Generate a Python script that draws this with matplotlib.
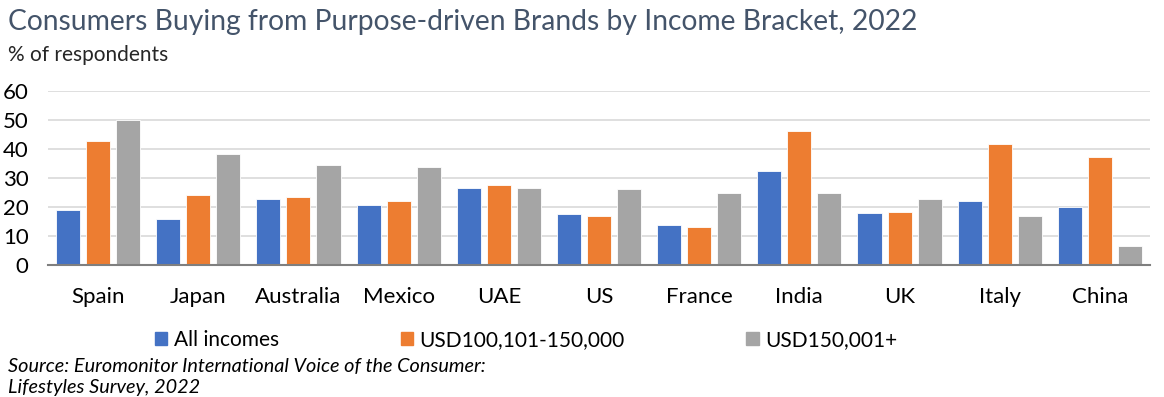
import numpy as np
import matplotlib.pyplot as plt
from matplotlib.patches import Patch

countries = ['Spain', 'Japan', 'Australia', 'Mexico', 'UAE', 'US', 'France',
             'India', 'UK', 'Italy', 'China']
all_incomes = [19.0, 16.0, 22.8, 20.8, 26.5, 17.7, 13.7, 32.5, 17.8, 22.0, 19.9]
usd_100_150 = [42.8, 24.1, 23.6, 22.0, 27.6, 16.9, 13.1, 46.1, 18.3, 41.8, 37.2]
usd_150_plus = [50.0, 38.4, 34.6, 33.9, 26.7, 26.2, 25.0, 24.9, 22.7, 16.8, 6.6]
series_names = ['All incomes', 'USD100,101-150,000', 'USD150,001+']
colors = ['#4472C4', '#ED7D31', '#A5A5A5']

plt.rcParams['font.family'] = ['Lato', 'DejaVu Sans']

fig = plt.figure(figsize=(11.64, 3.97), dpi=100)
ax = fig.add_axes([48 / 1164, 1 - 265 / 397, (1150 - 48) / 1164, (265 - 91) / 397])

x = np.arange(len(countries))
w = 0.24
for i, vals in enumerate([all_incomes, usd_100_150, usd_150_plus]):
    ax.bar(x + (i - 1) * 0.3, vals, width=w, color=colors[i],
           edgecolor='white', linewidth=0.6, zorder=3)

ax.set_xlim(-0.5, len(countries) - 0.5)
ax.set_ylim(0, 60)
ax.set_yticks(range(0, 61, 10))
ax.set_xticks(x)
ax.set_xticklabels(countries)
ax.yaxis.grid(True, color='#D9D9D9', linewidth=1.2, zorder=0)
for s in ['top', 'right', 'left']:
    ax.spines[s].set_visible(False)
ax.spines['bottom'].set_color('#7F7F7F')
ax.spines['bottom'].set_linewidth(1.5)
ax.spines['bottom'].set_zorder(4)
ax.tick_params(axis='both', length=0, labelsize=16, colors='black')
ax.tick_params(axis='x', pad=16)
ax.tick_params(axis='y', pad=14)

fig.text(8 / 1164, 1 - 22 / 397, 'Consumers Buying from Purpose-driven Brands by Income Bracket, 2022',
         fontsize=20.3, color='#44546A', va='center', ha='left')
fig.text(8 / 1164, 1 - 55 / 397, '% of respondents', fontsize=15, color='#262626',
         va='center', ha='left')

handles = [Patch(color=c) for c in colors]
fig.legend(handles, series_names, loc='center left', bbox_to_anchor=(136 / 1164, 1 - 340 / 397),
           ncol=3, frameon=False, fontsize=15, handlelength=0.6, handleheight=0.6,
           handletextpad=0.3, columnspacing=5.85)

fig.text(8 / 1164, 1 - 366 / 397, 'Source: Euromonitor International Voice of the Consumer:',
         fontsize=14.3, style='italic', va='center', ha='left')
fig.text(8 / 1164, 1 - 388 / 397, 'Lifestyles Survey, 2022',
         fontsize=14.3, style='italic', va='center', ha='left')

fig.savefig('out.png', dpi=100)
